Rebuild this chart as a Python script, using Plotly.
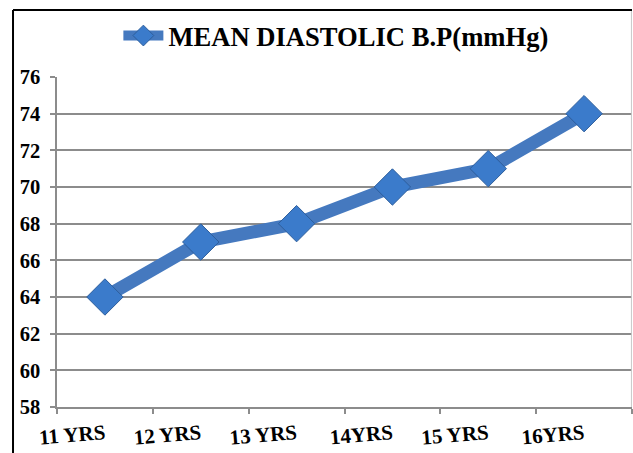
import plotly.graph_objects as go

# Mean diastolic blood pressure by age group
ages = ["11 YRS", "12 YRS", "13 YRS", "14YRS", "15 YRS", "16YRS"]
mean_diastolic = [64, 67, 68, 70, 71, 74]

series_name = "MEAN DIASTOLIC B.P(mmHg)"
y_min, y_max, y_step = 58, 76, 2

serif = "Liberation Serif, Times New Roman, serif"
grid_grey = "#8c8c8c"

fig = go.Figure()
fig.add_trace(go.Scatter(
    x=ages,
    y=mean_diastolic,
    name=series_name,
    mode="lines+markers",
    line=dict(color="#4579BF", width=13),
    marker=dict(symbol="diamond", size=28, color="#3B7BCB",
                line=dict(color="#2D5E9C", width=1)),
))

fig.update_layout(
    width=633, height=453,
    margin=dict(l=57, r=1, t=77, b=46),
    paper_bgcolor="white",
    plot_bgcolor="white",
    showlegend=True,
    legend=dict(
        orientation="h",
        x=0.485, xanchor="center",
        y=1.125, yanchor="middle",
        font=dict(family=serif, size=26.6, color="black", weight="bold"),
        bgcolor="rgba(0,0,0,0)",
        itemwidth=40,
    ),
    xaxis=dict(
        type="category",
        range=[-0.5, len(ages) - 0.5],
        tickson="boundaries",
        ticks="outside", ticklen=5, tickcolor=grid_grey, tickwidth=1.5,
        showline=True, linecolor=grid_grey, linewidth=1.5,
        showgrid=False,
        tickangle=-5,
        tickfont=dict(family=serif, size=21, color="black", weight="bold"),
        ticklabelstandoff=5,
        fixedrange=True,
    ),
    yaxis=dict(
        range=[y_min, y_max],
        dtick=y_step, tick0=y_min,
        ticks="outside", ticklen=5, tickcolor=grid_grey, tickwidth=1.5,
        showline=True, linecolor=grid_grey, linewidth=1.5,
        showgrid=True, gridcolor=grid_grey, gridwidth=1.5,
        zeroline=False,
        tickfont=dict(family=serif, size=20.5, color="black", weight="bold"),
        ticklabelstandoff=6,
        fixedrange=True,
    ),
    shapes=[
        # chart frame: black on top and left, light grey on the right
        dict(type="line", xref="paper", yref="paper",
             x0=-0.0765, x1=1.0, y0=1.203, y1=1.203,
             line=dict(color="black", width=2)),
        dict(type="line", xref="paper", yref="paper",
             x0=-0.0765, x1=-0.0765, y0=1.203, y1=-0.2,
             line=dict(color="black", width=2)),
        dict(type="line", xref="paper", yref="paper",
             x0=0.999, x1=0.999, y0=1.2, y1=0,
             line=dict(color="#c8c8c8", width=1)),
    ],
)

fig.write_html("out.html")
